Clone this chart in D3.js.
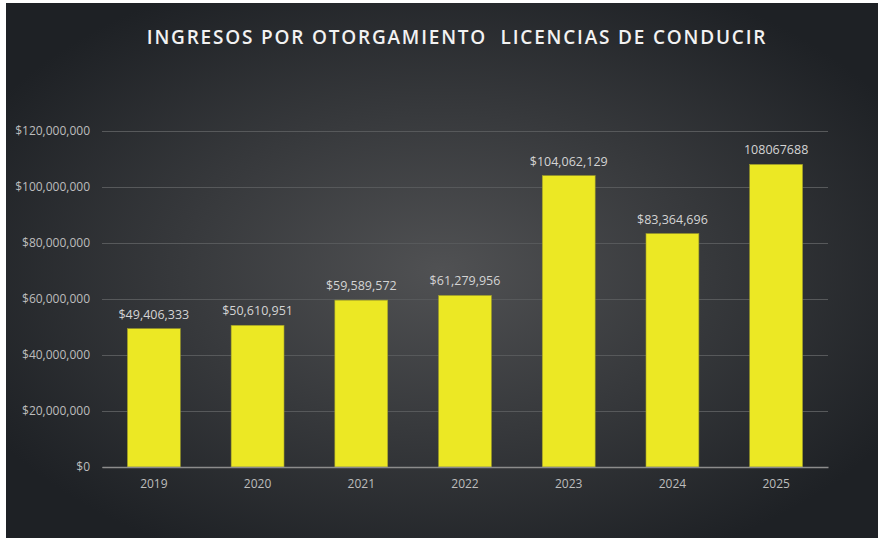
<!DOCTYPE html>
<html>
<head>
<meta charset="utf-8">
<script src="https://cdn.jsdelivr.net/npm/d3@7"></script>
<style>
  body { margin: 0; background: #fff; }
  svg { display: block; }
</style>
</head>
<body>
<svg id="chart" width="878" height="538"></svg>
<script>
// data
var years = ['2019', '2020', '2021', '2022', '2023', '2024', '2025'];
var ingresos = [49406333, 50610951, 59589572, 61279956, 104062129, 83364696, 108067688];
var etiquetas = ['$49,406,333', '$50,610,951', '$59,589,572', '$61,279,956', '$104,062,129', '$83,364,696', '108067688'];
var yTicks = [0, 20000000, 40000000, 60000000, 80000000, 100000000, 120000000];

var svg = d3.select('#chart');
var W = 878, H = 538;

// background gradient (lighter in middle)
var defs = svg.append('defs');
var grad = defs.append('radialGradient').attr('id', 'bg')
    .attr('cx', '50%').attr('cy', '50%').attr('r', '60%');
grad.append('stop').attr('offset', '0%').attr('stop-color', '#505153');
grad.append('stop').attr('offset', '100%').attr('stop-color', '#1e2125');

svg.append('rect').attr('x', 6).attr('y', 3).attr('width', W - 6).attr('height', H - 3)
    .attr('fill', 'url(#bg)');

var margin = {left: 102, right: 50, top: 131, bottom: 71};

var x = d3.scaleBand().domain(years)
    .range([margin.left, W - margin.right])
    .paddingInner(0.49).paddingOuter(0.245);

var y = d3.scaleLinear().domain([0, 120000000])
    .range([H - margin.bottom, margin.top]);

var fmt = d3.format('$,');

// gridlines + y labels
var yAxis = d3.axisLeft(y).tickValues(yTicks).tickFormat(fmt)
    .tickSize(-(W - margin.left - margin.right)).tickPadding(12);
var gy = svg.append('g').attr('transform', 'translate(' + margin.left + ',0)').call(yAxis);
gy.select('.domain').remove();
gy.selectAll('.tick line').attr('stroke', '#57595b').attr('stroke-width', 1);
gy.selectAll('.tick text').attr('fill', '#bdbdbd')
    .style('font-family', '"Open Sans", sans-serif').style('font-size', '12px');

// bars
svg.selectAll('.bar').data(ingresos).enter().append('rect')
    .attr('class', 'bar')
    .attr('x', function(d, i) { return x(years[i]); })
    .attr('y', function(d) { return y(d); })
    .attr('width', x.bandwidth())
    .attr('height', function(d) { return y(0) - y(d); })
    .attr('fill', '#ece824')
    .attr('stroke', '#9c9a2a').attr('stroke-width', 0.6);

// x axis line
var xAxis = d3.axisBottom(x).tickSize(0).tickPadding(12);
var gx = svg.append('g').attr('transform', 'translate(0,' + y(0) + ')').call(xAxis);
gx.select('.domain').attr('stroke', '#8c8c8c').attr('stroke-width', 1.5);
gx.selectAll('.tick text').attr('fill', '#bdbdbd')
    .style('font-family', '"Open Sans", sans-serif').style('font-size', '12px');

// value labels
svg.selectAll('.lbl').data(ingresos).enter().append('text')
    .attr('class', 'lbl')
    .attr('x', function(d, i) { return x(years[i]) + x.bandwidth() / 2; })
    .attr('y', function(d) { return y(d) - 10; })
    .attr('text-anchor', 'middle')
    .attr('fill', '#d4d4d4')
    .style('font-family', '"Open Sans", sans-serif').style('font-size', '12.5px')
    .text(function(d, i) { return etiquetas[i]; });

// title
svg.append('text')
    .attr('x', 457).attr('y', 44)
    .attr('text-anchor', 'middle')
    .attr('fill', '#f2f2f2')
    .style('font-family', '"Open Sans", sans-serif')
    .style('font-weight', '600').style('font-size', '19px')
    .style('letter-spacing', '1.8px')
    .style('white-space', 'pre')
    .text('INGRESOS POR OTORGAMIENTO  LICENCIAS DE CONDUCIR');
</script>
</body>
</html>
